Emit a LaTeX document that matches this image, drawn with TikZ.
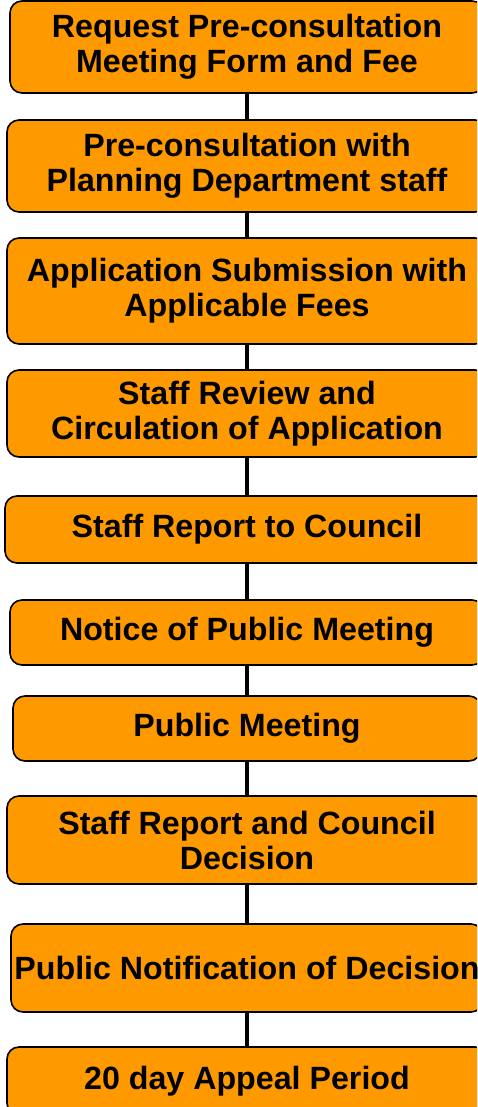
\documentclass[tikz,border=0pt]{standalone}
\usepackage{fontspec}
\setmainfont{Liberation Sans}
\definecolor{steporange}{RGB}{255,153,0}
\begin{document}
\begin{tikzpicture}[x=1pt,y=-1pt,
		stepbox/.style={draw=black,line width=1.6pt,fill=steporange,rounded corners=12pt,
			align=center,inner sep=0pt,font=\fontsize{32.2}{35}\selectfont\bfseries},
		link/.style={line width=3.5pt}]
				\useasboundingbox (0,0) rectangle (477,1107);
				\clip (0,0) rectangle (477,1107);
				\node[stepbox,minimum width=474,minimum height=92] (s1) at (247,47) {Request Pre-consultation\\Meeting Form and Fee};
				\node[stepbox,minimum width=480,minimum height=92] (s2) at (247,166) {Pre-consultation with\\Planning Department staff};
				\node[stepbox,minimum width=480,minimum height=106] (s3) at (247,291) {Application Submission with\\Applicable Fees};
				\node[stepbox,minimum width=480,minimum height=87] (s4) at (247,413.5) {Staff Review and\\Circulation of Application};
				\node[stepbox,minimum width=484,minimum height=67] (s5) at (247,529.5) {Staff Report to Council};
				\node[stepbox,minimum width=474,minimum height=65] (s6) at (247,632.5) {Notice of Public Meeting};
				\node[stepbox,minimum width=468,minimum height=65] (s7) at (247,728.5) {Public Meeting};
				\node[stepbox,minimum width=480,minimum height=88] (s8) at (247,840) {Staff Report and Council\\Decision};
				\node[stepbox,minimum width=472,minimum height=88] (s9) at (247,968) {Public Notification of Decision};
				\node[stepbox,minimum width=480,minimum height=68] (s10) at (247,1081) {20 day Appeal Period};
				\foreach \a [evaluate=\a as \b using int(\a+1)] in {1,...,9}{
						\draw[link] (s\a.south) -- (s\b.north);
					}
			\end{tikzpicture}
\end{document}
